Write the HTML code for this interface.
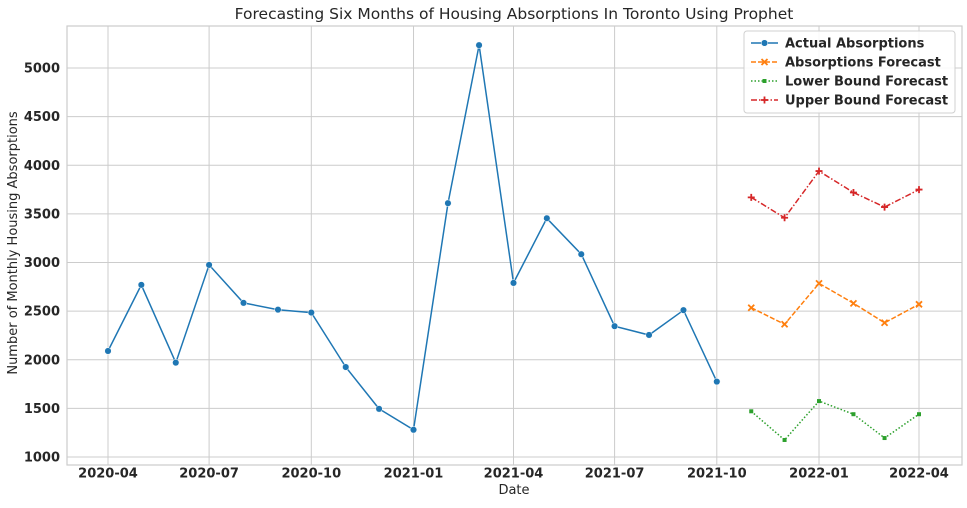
<!DOCTYPE html>
<html><head><meta charset="utf-8"><style>
body{margin:0;background:#fff;font-family:"DejaVu Sans",sans-serif;}
</style></head><body>
<svg id="chart" width="967" height="504" xmlns="http://www.w3.org/2000/svg" font-family="DejaVu Sans, sans-serif"></svg>
<script>
const actualDates=["2020-04-01","2020-05-01","2020-06-01","2020-07-01","2020-08-01","2020-09-01","2020-10-01","2020-11-01","2020-12-01","2021-01-01","2021-02-01","2021-03-01","2021-04-01","2021-05-01","2021-06-01","2021-07-01","2021-08-01","2021-09-01","2021-10-01"];
const actualValues=[2090,2770,1970,2975,2585,2515,2485,1925,1495,1280,3610,5235,2790,3455,3085,2345,2255,2510,1775];
const forecastDates=["2021-11-01","2021-12-01","2022-01-01","2022-02-01","2022-03-01","2022-04-01"];
const forecastValues=[2535,2365,2785,2580,2380,2570];
const lowerValues=[1470,1175,1575,1440,1195,1440];
const upperValues=[3670,3460,3940,3720,3570,3750];
const xTickLabels=["2020-04","2020-07","2020-10","2021-01","2021-04","2021-07","2021-10","2022-01","2022-04"];
const yTicks=[1000,1500,2000,2500,3000,3500,4000,4500,5000];

const svg=document.getElementById('chart');
const NS="http://www.w3.org/2000/svg";
const L=67,R=962,T=26,B=465;
const d0=Date.parse("2020-04-01"),d1=Date.parse("2022-04-01");
function x(d){return 108+(Date.parse(d)-d0)/(d1-d0)*811;}
function y(v){return 457-(v-1000)*389/4000;}
function mk(tag,attrs,parent){const e=document.createElementNS(NS,tag);for(const k in attrs)e.setAttribute(k,attrs[k]);(parent||svg).appendChild(e);return e;}

const grid=mk('g',{});


yTicks.forEach(v=>{
  mk('line',{x1:L,x2:R,y1:y(v),y2:y(v),stroke:'#cccccc','stroke-width':1},grid);
  const t=mk('text',{x:L-7,y:y(v)+4.5,'text-anchor':'end','font-size':13,'font-weight':'bold',fill:'#262626'});
  
  
  t.textContent=v;
});
xTickLabels.forEach(s=>{
  const xx=x(s+"-01");
  mk('line',{x1:xx,x2:xx,y1:T,y2:B,stroke:'#cccccc','stroke-width':1},grid);
  const t=mk('text',{x:xx,y:B+12.5,'text-anchor':'middle','font-size':13,'font-weight':'bold',fill:'#262626'});
  
  
  t.textContent=s;
});
const frame=mk('rect',{x:L,y:T,width:R-L,height:B-T,fill:'none',stroke:'#cccccc','stroke-width':1.2});



function series(dates,vals,color,dash,marker,name){
  const g=mk('g',{});
  
  
  const pts=dates.map((d,i)=>x(d).toFixed(1)+','+y(vals[i]).toFixed(1)).join(' ');
  const a={points:pts,fill:'none',stroke:color,'stroke-width':1.5};
  if(dash)a['stroke-dasharray']=dash;
  mk('polyline',a,g);
  dates.forEach((d,i)=>drawMarker(g,x(d),y(vals[i]),color,marker));
}
function drawMarker(g,cx,cy,color,marker){
  let m;
  if(marker==='o')m=mk('circle',{cx,cy,r:3.3,fill:color,stroke:'#fff','stroke-width':0.5},g);
  else if(marker==='x')m=mk('path',{d:`M${cx-3},${cy-3}L${cx+3},${cy+3}M${cx-3},${cy+3}L${cx+3},${cy-3}`,stroke:color,'stroke-width':1.8},g);
  else if(marker==='s')m=mk('rect',{x:cx-2,y:cy-2,width:4,height:4,fill:color},g);
  else m=mk('path',{d:`M${cx-3.5},${cy}L${cx+3.5},${cy}M${cx},${cy-3.5}L${cx},${cy+3.5}`,stroke:color,'stroke-width':1.8},g);
  
  
}
series(actualDates,actualValues,'#1f77b4',null,'o','actual-absorptions-line');
series(forecastDates,forecastValues,'#ff7f0e','5,2','x','absorptions-forecast-line');
series(forecastDates,lowerValues,'#2ca02c','1.5,2','s','lower-bound-line');
series(forecastDates,upperValues,'#d62728','6,2,1.5,2','p','upper-bound-line');

const title=mk('text',{x:514,y:19,'text-anchor':'middle','font-size':15.5,fill:'#262626'});


title.textContent='Forecasting Six Months of Housing Absorptions In Toronto Using Prophet';
const xt=mk('text',{x:514,y:494,'text-anchor':'middle','font-size':13,fill:'#262626'});


xt.textContent='Date';
const yt=mk('text',{x:17,y:243,'text-anchor':'middle','font-size':13,fill:'#262626',transform:'rotate(-90 17 243)'});


yt.textContent='Number of Monthly Housing Absorptions';

const lg=mk('g',{});


mk('rect',{x:744,y:31,width:211,height:82,rx:3,fill:'#fff','fill-opacity':0.85,stroke:'#d0d0d0'},lg);
const entries=[['Actual Absorptions','#1f77b4',null,'o'],['Absorptions Forecast','#ff7f0e','5,2','x'],['Lower Bound Forecast','#2ca02c','1.5,2','s'],['Upper Bound Forecast','#d62728','6,2,1.5,2','p']];
entries.forEach((e,i)=>{
  const ey=43+i*19;
  const g=mk('g',{},lg);
  
  
  const a={x1:751,x2:778,y1:ey,y2:ey,stroke:e[1],'stroke-width':1.5};
  if(e[2])a['stroke-dasharray']=e[2];
  mk('line',a,g);
  drawMarker(g,764.5,ey,e[1],e[3]);
  const t=mk('text',{x:785,y:ey+4.5,'font-size':13,'font-weight':'bold',fill:'#262626'},g);
  t.textContent=e[0];
});
</script>
</body></html>
